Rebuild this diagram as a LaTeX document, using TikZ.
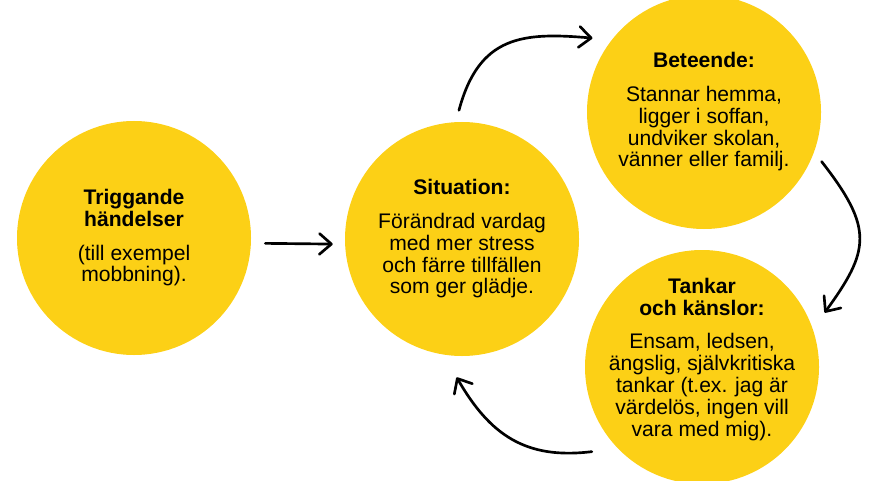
\documentclass[tikz,border=0pt]{standalone}
\usepackage{fontspec}
\setmainfont{Liberation Sans}
\usepackage{tikz}
\usetikzlibrary{arrows.meta}
\definecolor{bubbleyellow}{RGB}{252,208,22}

\begin{document}
\begin{tikzpicture}[
  bubble/.style={circle, fill=bubbleyellow, minimum size=5.85cm, inner sep=0pt},
  txt/.style={align=center, text=black, font=\fontsize{15}{15.6}\selectfont},
  flow/.style={-{Straight Barb[length=0.3cm,width=0.52cm,round]}, line width=1.9pt, line cap=round}
]
\useasboundingbox (0,0) rectangle (22,12);
\node[bubble] (trig) at (3.35,6.05) {};
\node[bubble] (sit) at (11.55,6.025) {};
\node[bubble] (bet) at (17.6,9.2) {};
\node[bubble] (tank) at (17.55,2.825) {};
\node[txt] (trigtxt) at (trig) {\textbf{Triggande}\\\textbf{händelser}\\[8pt](till exempel\\mobbning).};
\node[txt] (sittxt) at (sit) {\textbf{Situation:}\\[8pt]Förändrad vardag\\med mer stress\\och färre tillfällen\\som ger glädje.};
\node[txt] (bettxt) at (bet) {\textbf{Beteende:}\\[8pt]Stannar hemma,\\ligger i soffan,\\undviker skolan,\\vänner eller familj.};
\node[txt] (tanktxt) at ([yshift=0.18cm]tank.center) {\textbf{Tankar}\\\textbf{och känslor:}\\[8pt]Ensam, ledsen,\\ängslig, självkritiska\\tankar (t.ex. jag är\\värdelös, ingen vill\\vara med mig).};
% pilar
\draw[flow, shorten <=0.35cm, shorten >=0.3cm] ([yshift=-0.13cm]trig.east) -- ([yshift=-0.13cm]sit.west);
\draw[flow, shorten <=0.3cm, shorten >=0.48cm] (sit.93) to[out=75, in=175, looseness=1.3] (bet.142);
\draw[flow, shorten <=0.3cm, shorten >=0.5cm] (bet.-20) to[out=-52, in=54, looseness=1.4] (tank.19);
\draw[flow, shorten <=0.65cm, shorten >=0.65cm] (tank.224) to[out=187, in=-60, looseness=1.2] (sit.261);
\end{tikzpicture}
\end{document}
